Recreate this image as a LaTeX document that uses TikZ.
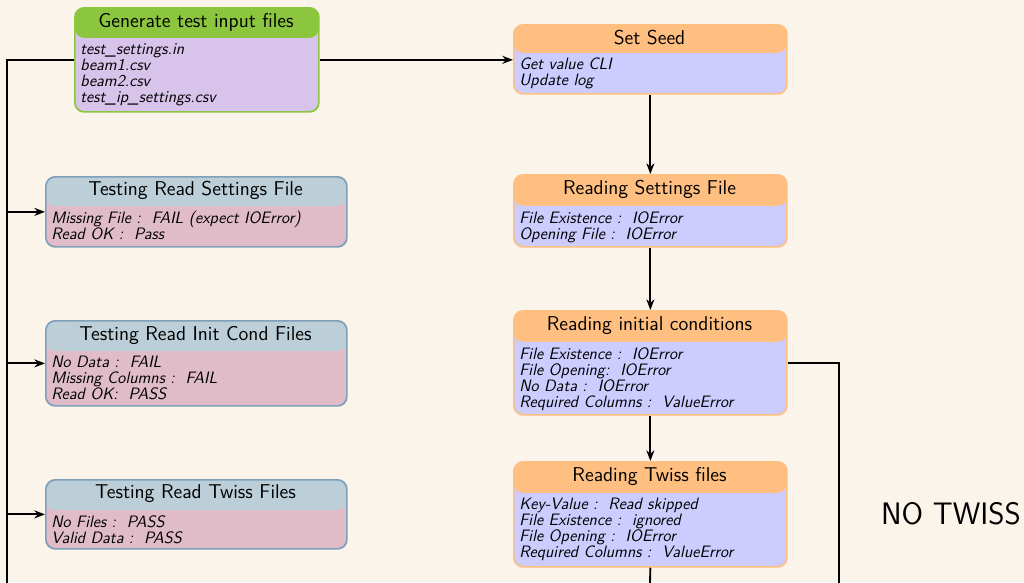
\documentclass[tikz,border=0pt]{standalone}
\usepackage{fontspec}
\usetikzlibrary{arrows.meta}
\renewcommand\familydefault{\sfdefault}
\definecolor{bgc}{HTML}{FBF4EA}
\definecolor{genheadc}{HTML}{8CC63F}
\definecolor{genbodyc}{HTML}{D8C4EA}
\definecolor{orheadc}{HTML}{FFBF80}
\definecolor{orbodyc}{HTML}{CCCCFF}
\definecolor{gbheadc}{HTML}{BCCFD8}
\definecolor{gbborderc}{HTML}{7FA0B8}
\definecolor{gbbodyc}{HTML}{E0BCC8}
\tikzset{
  basebox/.style={rounded corners=7pt, line width=1.3pt, inner sep=0pt},
  genbox/.style={basebox, draw=genheadc, fill=genbodyc},
  orbox/.style={basebox, draw=orheadc, fill=orbodyc},
  gbbox/.style={basebox, draw=gbborderc, fill=gbbodyc},
  genhead/.style={fill=genheadc},
  orhead/.style={fill=orheadc},
  gbhead/.style={fill=gbheadc},
  titletext/.style={inner sep=0pt, font=\fontsize{15}{17}\selectfont},
  bodytext/.style={inner sep=0pt, align=left, font=\fontsize{12.4}{12}\selectfont\itshape},
  conn/.style={line width=1.4pt, -{Stealth[length=8pt,width=6pt]}},
  wire/.style={line width=1.4pt}
}
\newcommand\mybox[9]{%
  \pgfmathsetmacro\bw{(#4-#2)*0.75}%
  \pgfmathsetmacro\bh{(#5-#3)*0.75}%
  \pgfmathsetmacro\hh{(#6-#3)*0.75}%
  \node[#7box, minimum width=\bw pt, minimum height=\bh pt, anchor=north west,
    path picture={\fill[#7head] (path picture bounding box.north west) rectangle ([yshift=-\hh pt]path picture bounding box.north east);}]
    (#1) at (#2,#3) {};
  \node[titletext] (#1-t) at ({(#2+#4)/2},{(#3+#6)/2}) {#8};
  \node[bodytext, anchor=north west] (#1-b) at ({#2+6},{#6+6}) {#9};
}
\begin{document}
\begin{tikzpicture}[x=0.75pt, y=-0.75pt]
\fill[bgc] (0,0) rectangle (1024,582);
\useasboundingbox (0,0) rectangle (1024,582);

\mybox{gen}{74}{7}{318}{111}{37}{gen}{Generate test input files}{test\_settings.in\\beam1.csv\\beam2.csv\\test\_ip\_settings.csv}
\mybox{seed}{513}{24}{786}{93}{52}{or}{Set Seed}{Get value CLI\\Update log}
\mybox{rset}{513}{174}{786}{246}{205}{or}{Reading Settings File}{File Existence :\ \ IOError\\Opening File :\ \ IOError}
\mybox{rinit}{513}{310}{786}{414}{341}{or}{Reading initial conditions}{File Existence :\ \ IOError\\File Opening:\ \ IOError\\No Data :\ \ IOError\\Required Columns :\ \ ValueError}
\mybox{rtw}{513}{461}{786}{566}{492}{or}{Reading Twiss files}{Key-Value :\ \ Read skipped\\File Existence :\ \ ignored\\File Opening :\ \ IOError\\Required Columns :\ \ ValueError}
\mybox{tset}{45}{176}{346}{246}{205}{gb}{Testing Read Settings File}{Missing File :\ \ FAIL (expect IOError)\\Read OK :\ \ Pass}
\mybox{tinit}{45}{320}{346}{405}{350}{gb}{Testing Read Init Cond Files}{No Data :\ \ FAIL\\Missing Columns :\ \ FAIL\\Read OK:\ \ PASS}
\mybox{ttw}{45}{479}{346}{548}{509}{gb}{Testing Read Twiss Files}{No Files :\ \ PASS\\Valid Data :\ \ PASS}

\node[inner sep=0pt, font=\fontsize{23.3}{26}\selectfont] (notwiss) at (951,514) {NO TWISS};

\coordinate (lbus) at (7,60);
\coordinate (lbot) at (7,583);
\coordinate (mbot) at (650,583);
\coordinate (rturn) at (839,362);
\coordinate (rbot) at (839,583);

\draw[wire] (gen.west) -- (gen.west -| lbus) -- (lbot);
\draw[conn] (lbus |- tset.west) -- (tset.west);
\draw[conn] (lbus |- tinit.west) -- (tinit.west);
\draw[conn] (lbus |- ttw.west) -- (ttw.west);
\draw[conn] (gen.east) -- (gen.east -| seed.west);
\draw[conn] (seed.south) -- (rset.north);
\draw[conn] (rset.south) -- (rinit.north);
\draw[conn] (rinit.south) -- (rtw.north);
\draw[wire] (rtw.south) -- (mbot);
\draw[wire] (rinit.east) -- (rinit.east -| rturn) -- (rbot);
\end{tikzpicture}
\end{document}
